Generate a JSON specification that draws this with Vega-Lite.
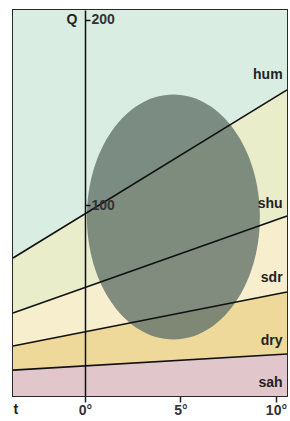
{
  "$schema": "https://vega.github.io/schema/vega-lite/v6.json",
  "width": 274,
  "height": 386,
  "autosize": {"type": "none"},
  "padding": {"left": 13, "top": 10, "right": 3, "bottom": 25},
  "background": "#ffffff",
  "config": {
    "view": {"stroke": "#2a2a2a", "strokeWidth": 2},
    "font": "Liberation Sans"
  },
  "datasets": {
    "bands": [
      {"band": "mint", "t": -3.77, "lo": 71.4, "hi": 205.4},
      {"band": "mint", "t": 10.58, "lo": 162.2, "hi": 205.4},
      {"band": "hum", "t": -3.77, "lo": 41.6, "hi": 71.4},
      {"band": "hum", "t": 10.58, "lo": 94.1, "hi": 162.2},
      {"band": "shu", "t": -3.77, "lo": 23.8, "hi": 41.6},
      {"band": "shu", "t": 10.58, "lo": 53.0, "hi": 94.1},
      {"band": "sdr", "t": -3.77, "lo": 10.8, "hi": 23.8},
      {"band": "sdr", "t": 10.58, "lo": 19.5, "hi": 53.0},
      {"band": "dry", "t": -3.77, "lo": -3.2, "hi": 10.8},
      {"band": "dry", "t": 10.58, "lo": -3.2, "hi": 19.5}
    ],
    "lines": [
      {"line": "hum", "t": -3.77, "q": 71.4},
      {"line": "hum", "t": 10.58, "q": 162.2},
      {"line": "shu", "t": -3.77, "q": 41.6},
      {"line": "shu", "t": 10.58, "q": 94.1},
      {"line": "sdr", "t": -3.77, "q": 23.8},
      {"line": "sdr", "t": 10.58, "q": 53.0},
      {"line": "dry", "t": -3.77, "q": 10.8},
      {"line": "dry", "t": 10.58, "q": 19.5}
    ],
    "ellipse": [{"t": 4.63, "q": 93.5}],
    "labels": [
      {"label": "hum", "t": 10.35, "q": 170.3},
      {"label": "shu", "t": 10.35, "q": 100.5},
      {"label": "sdr", "t": 10.35, "q": 60.5},
      {"label": "dry", "t": 10.35, "q": 26.5},
      {"label": "sah", "t": 10.35, "q": 3.8}
    ],
    "axisnames": [
      {"label": "Q", "t": -0.4, "q": 200},
      {"label": "t", "t": -3.5, "q": -10.5}
    ]
  },
  "layer": [
    {
      "data": {"name": "bands"},
      "mark": {"type": "area", "opacity": 1},
      "encoding": {
        "x": {"field": "t", "type": "quantitative", "scale": {"domain": [-3.77, 10.58], "nice": false, "zero": false},
          "axis": {"values": [0, 5, 10], "labelExpr": "datum.value + '°'", "domain": false, "grid": false, "title": null, "tickSize": 6, "tickWidth": 1.5, "tickColor": "#222", "labelFontSize": 14, "labelFontWeight": "bold", "labelColor": "#333", "labelPadding": 1, "zindex": 1}},
        "y": {"field": "lo", "type": "quantitative", "stack": null, "scale": {"domain": [-3.2, 205.4], "nice": false, "zero": false},
          "axis": {"orient": "right", "offset": -202, "values": [100, 200], "grid": false, "title": null, "domainColor": "#111", "domainWidth": 1.5, "tickColor": "#111", "tickSize": 5, "tickWidth": 1.5, "labelFontSize": 14, "labelFontWeight": "bold", "labelColor": "#333", "labelPadding": 1, "zindex": 1}},
        "y2": {"field": "hi"},
        "color": {"field": "band", "type": "nominal", "legend": null,
          "scale": {"domain": ["mint", "hum", "shu", "sdr", "dry"], "range": ["#d9ede3", "#e9edca", "#f6eecd", "#eed99b", "#e1c6cc"]}}
      }
    },
    {
      "data": {"name": "ellipse"},
      "mark": {"type": "point", "filled": true, "shape": "M-0.706,0A0.706,1 0 1,0 0.706,0A0.706,1 0 1,0 -0.706,0Z", "size": 60025, "color": "#66766c", "opacity": 0.82},
      "encoding": {
        "x": {"field": "t", "type": "quantitative"},
        "y": {"field": "q", "type": "quantitative"}
      }
    },
    {
      "data": {"name": "lines"},
      "mark": {"type": "line", "color": "#111", "strokeWidth": 1.6},
      "encoding": {
        "x": {"field": "t", "type": "quantitative"},
        "y": {"field": "q", "type": "quantitative"},
        "detail": {"field": "line"}
      }
    },
    {
      "data": {"name": "labels"},
      "mark": {"type": "text", "align": "right", "baseline": "middle", "fontSize": 14, "fontWeight": "bold", "color": "#222"},
      "encoding": {
        "x": {"field": "t", "type": "quantitative"},
        "y": {"field": "q", "type": "quantitative"},
        "text": {"field": "label"}
      }
    },
    {
      "data": {"name": "axisnames"},
      "mark": {"type": "text", "align": "right", "baseline": "middle", "fontSize": 14, "fontWeight": "bold", "color": "#222"},
      "encoding": {
        "x": {"field": "t", "type": "quantitative"},
        "y": {"field": "q", "type": "quantitative"},
        "text": {"field": "label"}
      }
    }
  ]
}
